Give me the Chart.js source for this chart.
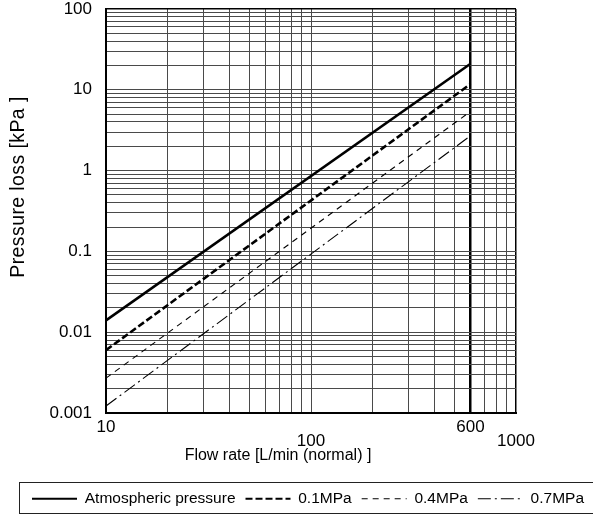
<!DOCTYPE html>
<html>
<head>
<meta charset="utf-8">
<script src="https://cdn.jsdelivr.net/npm/chart.js@4.4.1/dist/chart.umd.min.js"></script>
<style>
html,body{margin:0;padding:0;background:#fff;}
#wrap{width:593px;height:515px;position:relative;}
</style>
</head>
<body>
<div id="wrap"><canvas id="c"></canvas></div>
<script>
// ---- data ----
const flowRate = [10, 600];                 // L/min (normal)
const atmospheric = [0.014, 21];            // kPa
const mpa01 = [0.006, 11.8];
const mpa04 = [0.0027, 5.4];
const mpa07 = [0.00122, 2.7];
const seriesNames = ['Atmospheric pressure', '0.1MPa', '0.4MPa', '0.7MPa'];
const xTickLabels = [10, 100, 600, 1000];
const xLowerLabels = [100, 1000];          // labels printed one step lower
const yTickLabels = [0.001, 0.01, 0.1, 1, 10, 100];
const xTitle = 'Flow rate [L/min (normal) ]';
const yTitle = 'Pressure loss [kPa ]';

const FONT = "'Liberation Sans', Arial, sans-serif";
Chart.defaults.font.family = FONT;
Chart.defaults.color = '#000';

function logGrid(minExp, maxExp) {
  const out = [];
  for (let e = minExp; e < maxExp; e++) {
    for (let m = 1; m <= 9; m++) out.push(+(m * Math.pow(10, e)).toPrecision(6));
  }
  out.push(Math.pow(10, maxExp));
  return out;
}
function find(v, arr) {
  return arr.find(a => Math.abs(Math.log10(v) - Math.log10(a)) < 1e-6);
}
function pts(ys) { return flowRate.map((x, i) => ({x: x, y: ys[i]})); }

const gridGrey = '#4a4a4a';

const titlesAndBox = {
  id: 'titlesAndBox',
  afterDraw(chart) {
    const ctx = chart.ctx, ca = chart.chartArea;
    ctx.save();
    ctx.fillStyle = '#000';
    ctx.font = '16px ' + FONT;
    ctx.textAlign = 'center';
    ctx.textBaseline = 'middle';
    ctx.fillText(xTitle, ca.left + 172, ca.bottom + 43);
    ctx.save();
    ctx.translate(ca.left - 87, ca.top + 178);
    ctx.rotate(-Math.PI / 2);
    ctx.font = '19.5px ' + FONT;
    try { ctx.letterSpacing = '0.4px'; } catch (e) {}
    ctx.fillText(yTitle, 0, 0);
    ctx.restore();
    // legend frame
    const lg = chart.legend;
    ctx.strokeStyle = '#222';
    ctx.lineWidth = 1;
    ctx.strokeRect(Math.round(lg.left) - 2.5, Math.round(lg.top) + 1.5, 700, 31);
    ctx.restore();
  }
};

new Chart(document.getElementById('c'), {
  type: 'line',
  data: {
    datasets: [
      {label: seriesNames[0], data: pts(atmospheric), borderColor: '#000', backgroundColor: '#000', borderWidth: 2.6, pointRadius: 0, fill: false},
      {label: seriesNames[1], data: pts(mpa01), borderColor: '#000', backgroundColor: '#000', borderWidth: 2.6, borderDash: [7, 3], pointRadius: 0, fill: false},
      {label: seriesNames[2], data: pts(mpa04), borderColor: '#000', backgroundColor: '#000', borderWidth: 1.1, borderDash: [6, 5], pointRadius: 0, fill: false},
      {label: seriesNames[3], data: pts(mpa07), borderColor: '#000', backgroundColor: '#000', borderWidth: 1.1, borderDash: [13, 4, 2, 4], pointRadius: 0, fill: false}
    ]
  },
  options: {
    responsive: true,
    maintainAspectRatio: false,
    animation: false,
    devicePixelRatio: 1,
    layout: {padding: {left: 22, right: -20, top: 9, bottom: -1.5}},
    plugins: {
      tooltip: {enabled: false},
      legend: {
        position: 'bottom',
        align: 'start',
        labels: {
          usePointStyle: true,
          pointStyle: 'line',
          pointStyleWidth: 45,
          padding: 10,
          color: '#000',
          font: {size: 15.5, family: FONT},
          generateLabels: (chart) => {
            const base = Chart.defaults.plugins.legend.labels.generateLabels(chart);
            return base.map((item, i) => {
              const ds = chart.data.datasets[item.datasetIndex];
              return Object.assign(item, {
                lineDash: ds.borderDash || [],
                lineWidth: ds.borderWidth > 2 ? 2.2 : 1.1,
                strokeStyle: '#000',
                pointStyle: 'line'
              });
            });
          }
        }
      }
    },
    scales: {
      x: {
        type: 'logarithmic',
        min: 10, max: 1000,
        afterBuildTicks: s => { s.ticks = logGrid(1, 3).map(v => ({value: v})); },
        afterFit: s => { s.height = 68; },
        grid: {
          drawTicks: false,
          color: c => (c.tick && find(c.tick.value, [600, 1000])) ? '#000' : gridGrey,
          lineWidth: c => (c.tick && find(c.tick.value, [600])) ? 2.5 : (c.tick && find(c.tick.value, [1000]) ? 1.5 : 1)
        },
        border: {color: '#000', width: 2},
        ticks: {
          autoSkip: false, maxRotation: 0, minRotation: 0, padding: 8, color: '#000',
          font: {size: 17, lineHeight: 0.8},
          callback: (v) => {
            const m = find(v, xTickLabels);
            if (m === undefined) return '';
            return find(v, xLowerLabels) !== undefined ? ['', String(m)] : String(m);
          }
        }
      },
      y: {
        type: 'logarithmic',
        min: 0.001, max: 100,
        afterBuildTicks: s => { s.ticks = logGrid(-3, 2).map(v => ({value: v})); },
        afterFit: s => { s.width = 84; },
        grid: {
          drawTicks: true,
          tickLength: 14,
          tickColor: 'rgba(0,0,0,0)',
          color: c => (c.tick && find(c.tick.value, [100])) ? '#000' : gridGrey,
          lineWidth: c => (c.tick && find(c.tick.value, [100])) ? 1.5 : 1
        },
        border: {color: '#000', width: 2},
        ticks: {
          autoSkip: false, padding: 0, color: '#000',
          font: {size: 17, lineHeight: 1},
          callback: (v) => {
            const m = find(v, yTickLabels);
            return m === undefined ? '' : String(m);
          }
        }
      },
      y2: {
        type: 'linear',
        position: 'right',
        display: true,
        grid: {display: false},
        border: {display: false},
        ticks: {display: false},
        afterFit: s => { s.width = 97; }
      }
    }
  },
  plugins: [titlesAndBox]
});
</script>
</body>
</html>
